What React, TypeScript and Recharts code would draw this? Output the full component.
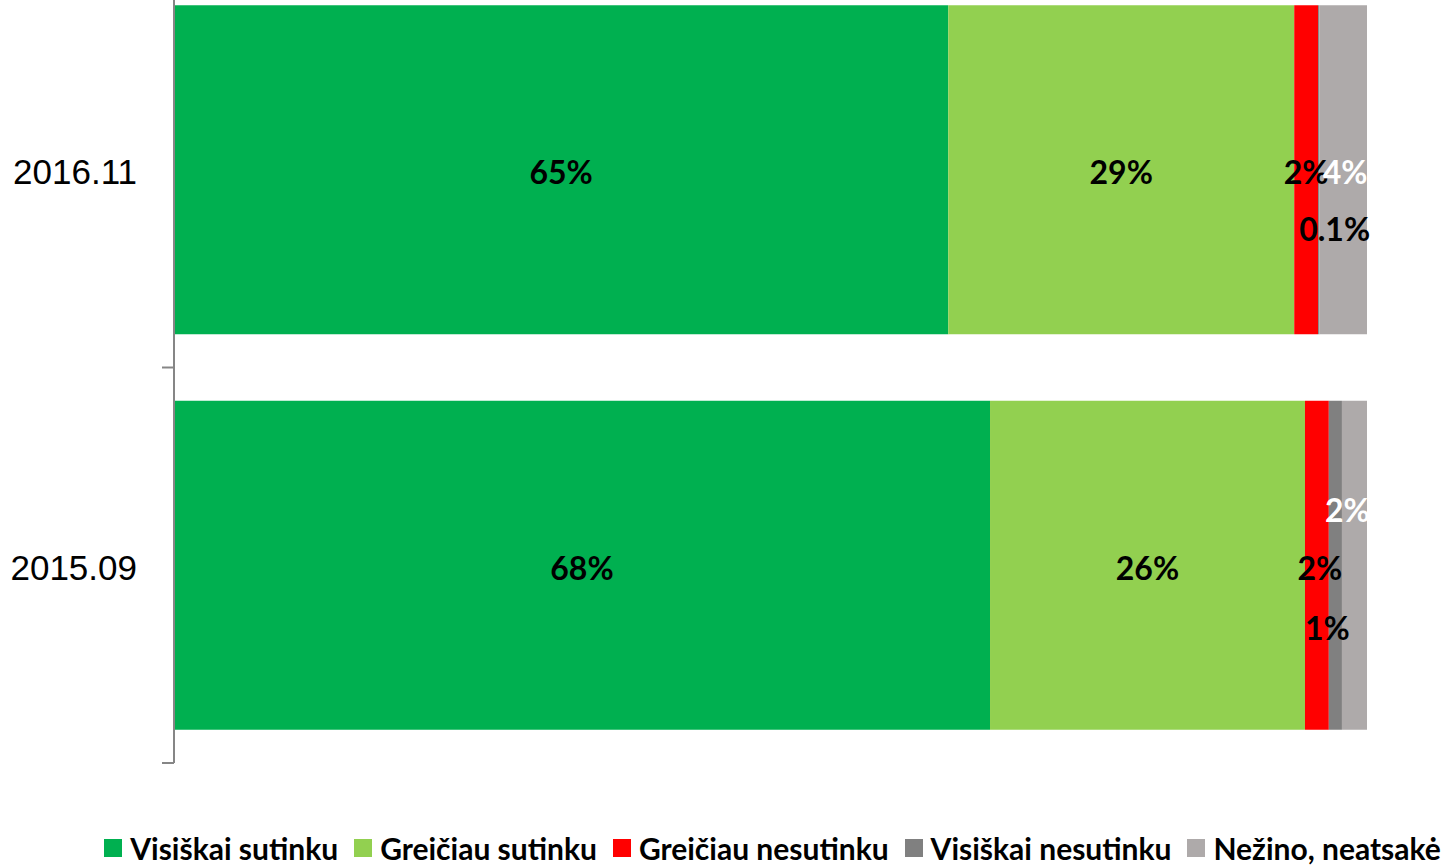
import React from 'react';
import { BarChart, Bar, XAxis, YAxis, LabelList } from 'recharts';

const categories = ['2016.11', '2015.09'];
const visiskaiSutinku = [64.9, 68.4];
const greiciauSutinku = [29, 26.4];
const greiciauNesutinku = [2, 2];
const visiskaiNesutinku = [0.1, 1.1];
const nezino = [4, 2.1];

const seriesNames = [
  'Visiškai sutinku',
  'Greičiau sutinku',
  'Greičiau nesutinku',
  'Visiškai nesutinku',
  'Nežino, neatsakė',
];
const seriesValues = [visiskaiSutinku, greiciauSutinku, greiciauNesutinku, visiskaiNesutinku, nezino];
const seriesKeys = ['s0', 's1', 's2', 's3', 's4'];
const colors = ['#00B050', '#92D050', '#FF0000', '#808080', '#AEAAAA'];

const data = categories.map((name, i) => {
  const row: { [key: string]: number | string } = { name };
  seriesKeys.forEach((k, s) => {
    row[k] = seriesValues[s][i];
  });
  return row;
});

// manual label nudges (series -> row -> [dx, dy]) like the moved Excel labels
const labelShift: { [key: number]: [number, number][] } = {
  3: [[16, 57], [-8, 60]],
  4: [[2, 0], [-7, -58]],
  2: [[0, 0], [3, 0]],
};
const labelColor = ['#000', '#000', '#000', '#000', '#fff'];

const fmt = (v: number) => (v < 1 ? v.toFixed(1) : Math.round(v).toString()) + '%';

const TICK_SIZE = 12;
const TICK_MARGIN = 25;

const CategoryTick = (props: any) => {
  const { x, y, payload } = props;
  const half = payload && payload.offset ? payload.offset : 197.75;
  const axisX = x + TICK_MARGIN + TICK_SIZE;
  return (
    <g>
      <line x1={axisX - TICK_SIZE} x2={axisX} y1={y + half} y2={y + half} stroke="#868686" strokeWidth={2} />
      <text
        x={x}
        y={y + 2}
        textAnchor="end"
        dominantBaseline="central"
        fontFamily="'Liberation Sans', Arial, sans-serif"
        fontSize={35}
        fill="#000"
      >
        {payload.value}
      </text>
    </g>
  );
};

const makeLabel = (s: number) => (p: any) => {
  const { x, y, width, height, value, index } = p;
  const shift = labelShift[s] ? labelShift[s][index] : [0, 0];
  return (
    <text
      x={x + width / 2 + shift[0]}
      y={y + height / 2 + shift[1] + 2}
      textAnchor="middle"
      dominantBaseline="central"
      fontFamily="Lato, sans-serif"
      fontWeight={700}
      fontSize={32}
      fill={labelColor[s]}
    >
      {fmt(Number(value))}
    </text>
  );
};

export default function App() {
  return (
    <div style={{ position: 'fixed', left: 0, top: 0, width: 1451, height: 866, overflow: 'hidden', background: '#fff' }}>
      <div style={{ position: 'absolute', left: 0, top: -28 }}>
        <BarChart
          width={1451}
          height={894}
          data={data}
          layout="vertical"
          margin={{ top: 0, right: 84, bottom: 103, left: 0 }}
          barCategoryGap="8.4%"
        >
          <XAxis type="number" domain={[0, 100]} hide />
          <YAxis
            type="category"
            dataKey="name"
            width={174}
            axisLine={{ stroke: '#868686', strokeWidth: 2 }}
            tickLine={false}
            tickSize={TICK_SIZE}
            tickMargin={TICK_MARGIN}
            tick={<CategoryTick />}
          />
          {seriesKeys.map((k, s) => (
            <Bar key={k} dataKey={k} name={seriesNames[s]} stackId="a" fill={colors[s]} isAnimationActive={false}>
              <LabelList dataKey={k} content={makeLabel(s)} />
            </Bar>
          ))}
        </BarChart>
      </div>
      <div
        style={{
          position: 'absolute',
          left: 94,
          width: 1357,
          top: 830,
          display: 'flex',
          justifyContent: 'center',
          fontFamily: 'Lato, sans-serif',
          fontWeight: 700,
          fontSize: 30,
          lineHeight: '36px',
          color: '#000',
          whiteSpace: 'nowrap',
        }}
      >
        {seriesNames.map((n, s) => (
          <div key={n} style={{ display: 'flex', alignItems: 'center', marginRight: s < seriesNames.length - 1 ? 16 : 0 }}>
            <span style={{ width: 18, height: 18, background: colors[s], marginRight: 8, display: 'inline-block' }} />
            <span>{n}</span>
          </div>
        ))}
      </div>
    </div>
  );
}
